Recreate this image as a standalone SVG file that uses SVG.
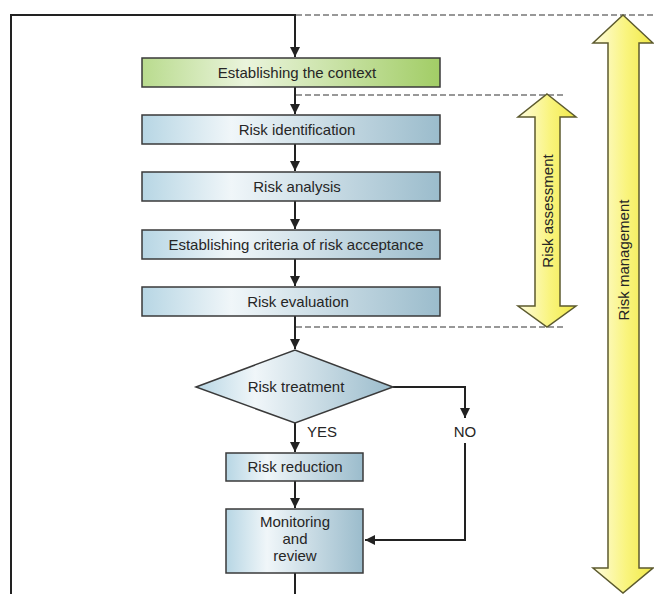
<svg xmlns="http://www.w3.org/2000/svg" width="654" height="594" viewBox="0 0 654 594">
<defs>
<linearGradient id="gBlue" x1="0" y1="0" x2="1" y2="0">
<stop offset="0" stop-color="#b7d6e4"/>
<stop offset="0.3" stop-color="#f0f6f9"/>
<stop offset="1" stop-color="#9bbccc"/>
</linearGradient>
<linearGradient id="gGreen" x1="0" y1="0" x2="1" y2="0">
<stop offset="0" stop-color="#b9db8e"/>
<stop offset="0.35" stop-color="#eaf4dc"/>
<stop offset="1" stop-color="#a2cd66"/>
</linearGradient>
<linearGradient id="gYellow" x1="0" y1="0" x2="1" y2="0">
<stop offset="0" stop-color="#fefce0"/>
<stop offset="0.55" stop-color="#f9f47e"/>
<stop offset="1" stop-color="#f1e948"/>
</linearGradient>
<marker id="ah" viewBox="0 0 10 10" refX="10" refY="5" markerWidth="10" markerHeight="10" markerUnits="userSpaceOnUse" orient="auto">
<path d="M0,0 L10,5 L0,10 Z" fill="#222"/>
</marker>
<style>
.box{stroke:#3a3a3a;stroke-width:1.5}
.t{font-family:"Liberation Sans",Arial,sans-serif;font-size:15px;fill:#262626;text-anchor:middle}
.c{fill:none;stroke:#222;stroke-width:2}
.d{fill:none;stroke:#333;stroke-width:1.2;stroke-dasharray:6 3}
.ya{fill:url(#gYellow);stroke:#5c5a2e;stroke-width:1.5}
</style>
</defs>
<g id="connectors">
<polyline class="c" points="11,594 11,15 295,15 295,57" marker-end="url(#ah)"/>
<line class="c" x1="295" y1="87" x2="295" y2="114" marker-end="url(#ah)"/>
<line class="c" x1="295" y1="144" x2="295" y2="171" marker-end="url(#ah)"/>
<line class="c" x1="295" y1="201" x2="295" y2="229" marker-end="url(#ah)"/>
<line class="c" x1="295" y1="259" x2="295" y2="286" marker-end="url(#ah)"/>
<line class="c" x1="295" y1="316" x2="295" y2="349" marker-end="url(#ah)"/>
<line class="c" x1="295" y1="423" x2="295" y2="452" marker-end="url(#ah)"/>
<line class="c" x1="295" y1="481" x2="295" y2="508" marker-end="url(#ah)"/>
<line class="c" x1="295" y1="573" x2="295" y2="594"/>
<polyline class="c" points="393,387 465,387 465,418" marker-end="url(#ah)"/>
<polyline class="c" points="465,443 465,540 365,540" marker-end="url(#ah)"/>
<line class="d" x1="296" y1="15" x2="654" y2="15"/>
<line class="d" x1="296" y1="95" x2="566" y2="95"/>
<line class="d" x1="296" y1="327" x2="566" y2="327"/>
</g>
<g id="context">
<rect class="box" x="142" y="58" width="298" height="29" fill="url(#gGreen)"/>
<text class="t" x="297" y="78">Establishing the context</text>
</g>
<g id="identification">
<rect class="box" x="142" y="115" width="298" height="29" fill="url(#gBlue)"/>
<text class="t" x="297" y="135">Risk identification</text>
</g>
<g id="analysis">
<rect class="box" x="142" y="172" width="298" height="29" fill="url(#gBlue)"/>
<text class="t" x="297" y="192">Risk analysis</text>
</g>
<g id="criteria">
<rect class="box" x="142" y="230" width="298" height="29" fill="url(#gBlue)"/>
<text class="t" x="296" y="250">Establishing criteria of risk acceptance</text>
</g>
<g id="evaluation">
<rect class="box" x="142" y="287" width="298" height="29" fill="url(#gBlue)"/>
<text class="t" x="298" y="307">Risk evaluation</text>
</g>
<g id="treatment">
<polygon class="box" points="196,387 295,350 393,387 295,423" fill="url(#gBlue)"/>
<text class="t" x="296" y="392">Risk treatment</text>
</g>
<g id="yes-label"><text class="t" x="322" y="437">YES</text></g>
<g id="no-label"><text class="t" x="465" y="437">NO</text></g>
<g id="reduction">
<rect class="box" x="226" y="453" width="137" height="28" fill="url(#gBlue)"/>
<text class="t" x="295" y="472">Risk reduction</text>
</g>
<g id="monitoring">
<rect class="box" x="226" y="509" width="137" height="64" fill="url(#gBlue)"/>
<text class="t" x="295" y="527">Monitoring</text>
<text class="t" x="295" y="544">and</text>
<text class="t" x="295" y="561">review</text>
</g>
<g id="risk-assessment">
<polygon class="ya" points="547,94 576,117 560,117 560,306 576,306 547,327 518,306 535,306 535,117 518,117"/>
<text class="t" transform="translate(553,211) rotate(-90)">Risk assessment</text>
</g>
<g id="risk-management">
<polygon class="ya" points="623,15 653,43 639,43 639,568 653,568 623,593 593,568 608,568 608,43 593,43"/>
<text class="t" transform="translate(629,260) rotate(-90)">Risk management</text>
</g>
</svg>
